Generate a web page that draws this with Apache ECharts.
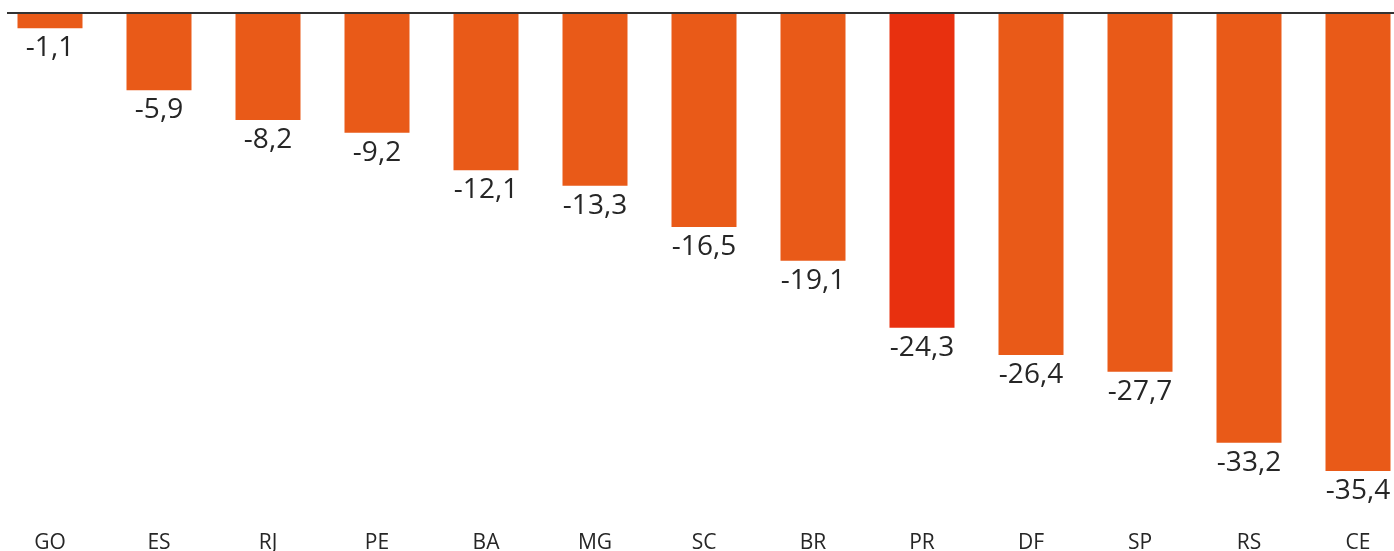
<!DOCTYPE html>
<html><head><meta charset="utf-8">
<script src="https://cdn.jsdelivr.net/npm/echarts@6/dist/echarts.min.js"></script>
<style>html,body{margin:0;padding:0;background:#fff}#c{width:1394px;height:551px}</style>
</head><body><div id="c"></div>
<script>
const categories = ['GO','ES','RJ','PE','BA','MG','SC','BR','PR','DF','SP','RS','CE'];
const values = [-1.1,-5.9,-8.2,-9.2,-12.1,-13.3,-16.5,-19.1,-24.3,-26.4,-27.7,-33.2,-35.4];
const highlight = 'PR';

const chart = echarts.init(document.getElementById('c'));
chart.setOption({
  animation:false,
  grid:{left:-4.5, width:1417, top:14, height:501, outerBoundsMode:'none', containLabel:false},
  xAxis:{type:'category', data:categories, position:'bottom',
    axisLine:{show:false}, axisTick:{show:false},
    axisLabel:{fontFamily:'Open Sans', fontSize:21, color:'#262626', margin:18}},
  yAxis:{type:'value', min:-38.8, max:0, show:false, splitLine:{show:false}},
  graphic:[{type:'line', shape:{x1:7,y1:13,x2:1394,y2:13}, style:{stroke:'#333333', lineWidth:2}, z:10}],
  series:[{type:'bar', barWidth:65,
    data:values.map((v,i)=>({value:v, itemStyle:{color: categories[i]===highlight ? '#E8300F' : '#E95A18'}})),
    label:{show:true, position:'bottom', distance:6, fontFamily:'Open Sans', fontSize:28, color:'#262626',
      formatter:p=>p.value.toFixed(1).replace('.',',')}
  }]
});
</script></body></html>
